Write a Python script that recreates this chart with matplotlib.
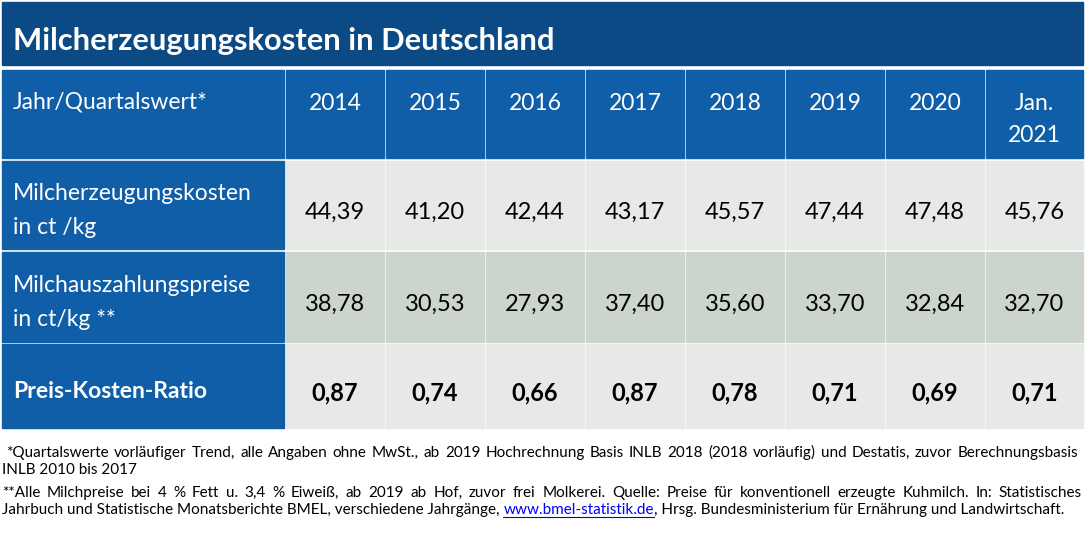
import matplotlib
matplotlib.use('Agg')
import matplotlib.pyplot as plt
from matplotlib.patches import Rectangle

plt.rcParams['font.family'] = ['Lato', 'DejaVu Sans']

# Table content
title = 'Milcherzeugungskosten in Deutschland'
header_label = 'Jahr/Quartalswert*'
years = ['2014', '2015', '2016', '2017', '2018', '2019', '2020', 'Jan.\n2021']
row_labels = ['Milcherzeugungskosten\nin ct /kg', 'Milchauszahlungspreise\nin ct/kg **', 'Preis-Kosten-Ratio']
kosten = [44.39, 41.20, 42.44, 43.17, 45.57, 47.44, 47.48, 45.76]
preise = [38.78, 30.53, 27.93, 37.40, 35.60, 33.70, 32.84, 32.70]
ratio = [0.87, 0.74, 0.66, 0.87, 0.78, 0.71, 0.69, 0.71]

note1 = (' *Quartalswerte vorläufiger Trend, alle Angaben ohne MwSt., ab 2019 Hochrechnung Basis '
         'INLB 2018 (2018 vorläufig) und Destatis, zuvor Berechnungsbasis')
note1b = 'INLB 2010 bis 2017'
note2 = ('**Alle Milchpreise bei 4 % Fett u. 3,4 % Eiweiß, ab 2019 ab Hof, zuvor frei Molkerei. '
         'Quelle: Preise für konventionell erzeugte Kuhmilch. In: Statistisches')
note2b = 'Jahrbuch und Statistische Monatsberichte BMEL, verschiedene Jahrgänge, '
link = 'www.bmel-statistik.de'
note2c = ', Hrsg. Bundesministerium für Ernährung und Landwirtschaft.'

# colours
title_bg = '#0c4a85'
head_bg = '#105ea8'
light_bg = '#e6e9e6'
mid_bg = '#ccd5cd'

W, H = 1085, 545
fig = plt.figure(figsize=(W / 100, H / 100), dpi=100)
ax = fig.add_axes([0, 0, 1, 1])
ax.set_xlim(0, W)
ax.set_ylim(H, 0)
ax.axis('off')

def fmt(v):
    return f'{v:.2f}'.replace('.', ',')

label_fs = 16.5
num_fs = 17

# title bar
ax.add_patch(Rectangle((2, 2), 1081, 63, color=title_bg))
ax.text(13, 41, title, color='white', fontsize=22.2, fontweight='bold', va='center', ha='left')

# grid geometry
row_top = [70, 161, 252, 344]
row_bot = [158, 249, 342, 428]
col_left = [2] + [286 + 100 * i for i in range(len(years))]
col_right = [284] + [384 + 100 * i for i in range(len(years) - 1)] + [1083]

rows = [kosten, preise, ratio]
row_bg = [light_bg, mid_bg, light_bg]

# header row
ax.add_patch(Rectangle((col_left[0], row_top[0]), col_right[0] - col_left[0],
                       row_bot[0] - row_top[0], color=head_bg))
ax.text(13, 102, header_label, color='white', fontsize=label_fs, va='center', ha='left')
for i, y in enumerate(years):
    ax.add_patch(Rectangle((col_left[i + 1], row_top[0]), col_right[i + 1] - col_left[i + 1],
                           row_bot[0] - row_top[0], color=head_bg))
    for k, part in enumerate(y.split('\n')):
        ax.text((col_left[i + 1] + col_right[i + 1]) / 2, 103 + 33 * k, part,
                color='white', fontsize=label_fs, va='center', ha='center')

# body rows
for r, vals in enumerate(rows):
    top, bot = row_top[r + 1], row_bot[r + 1]
    ax.add_patch(Rectangle((col_left[0], top), col_right[0] - col_left[0], bot - top, color=head_bg))
    bold = r == 2
    lines = row_labels[r].split('\n')
    if len(lines) == 2:
        ys = [(top + bot) / 2 - 11, (top + bot) / 2 + 23]
    else:
        ys = [(top + bot) / 2 + 6]
    for part, yy in zip(lines, ys):
        ax.text(13, yy, part, color='white', fontsize=label_fs, va='center', ha='left',
                fontweight='bold' if bold else 'normal')
    for i, v in enumerate(vals):
        ax.add_patch(Rectangle((col_left[i + 1], top), col_right[i + 1] - col_left[i + 1],
                               bot - top, color=row_bg[r]))
        ax.text((col_left[i + 1] + col_right[i + 1]) / 2, (top + bot) / 2 + 7, fmt(v),
                color='black', fontsize=num_fs, va='center', ha='center',
                fontweight='bold' if bold else 'normal')

# footnotes
fig.canvas.draw()
renderer = fig.canvas.get_renderer()
fs = 11.0

def width_of(s):
    t = ax.text(0, 0, s, fontsize=fs)
    w = t.get_window_extent(renderer).width
    t.remove()
    return w

def justify(line, x0, x1, y):
    lead = len(line) - len(line.lstrip(' '))
    words = line.strip().split(' ')
    if lead:
        x0 += width_of('a') * 0.6 * lead
    ws = [width_of(w) for w in words]
    gap = (x1 - x0 - sum(ws)) / (len(words) - 1)
    x = x0
    for w, wd in zip(words, ws):
        ax.text(x, y, w, fontsize=fs, va='baseline', ha='left')
        x += wd + gap

justify(note1, 2, 1078, 457)
ax.text(2, 474, note1b, fontsize=fs, va='baseline', ha='left')
justify(note2, 2, 1082, 497)

x = 2
for seg, col in [(note2b, 'black'), (link, '#0000ff'), (note2c, 'black')]:
    t = ax.text(x, 514, seg, fontsize=fs, va='baseline', ha='left', color=col)
    wd = t.get_window_extent(renderer).width
    if col != 'black':
        ax.plot([x, x + wd], [516.5, 516.5], color=col, lw=0.8)
    x += wd

fig.savefig('out.png', dpi=100)
